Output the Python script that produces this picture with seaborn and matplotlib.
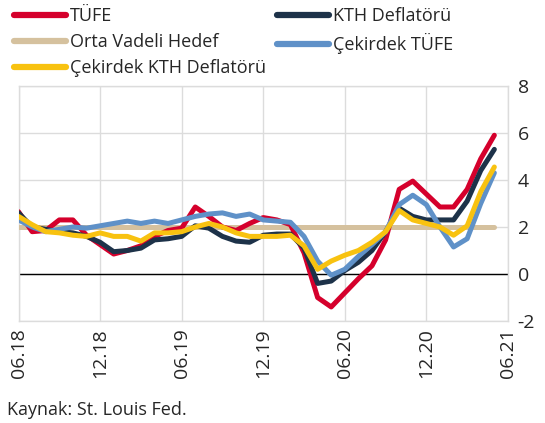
import pandas as pd
import matplotlib.pyplot as plt
import seaborn as sns

# ==========================================
# DATA (monthly, 06.18 - 05.21, % yoy)
# ==========================================

months = list(range(36))

tufe = [2.65, 1.8, 1.85, 2.3, 2.3, 1.65, 1.25, 0.85, 1.0, 1.2, 1.6, 1.85,
        1.95, 2.85, 2.45, 2.0, 1.85, 2.15, 2.4, 2.3, 2.1, 0.9, -1.0, -1.4,
        -0.8, -0.2, 0.35, 1.45, 3.6, 3.95, 3.4, 2.85, 2.85, 3.6, 4.9, 5.9]

kth = [2.6, 2.0, 1.9, 1.8, 1.75, 1.6, 1.35, 0.95, 1.0, 1.1, 1.45, 1.5,
       1.6, 2.05, 1.95, 1.6, 1.4, 1.35, 1.65, 1.7, 1.7, 1.1, -0.4, -0.3,
       0.15, 0.5, 1.0, 1.8, 2.8, 2.45, 2.3, 2.3, 2.3, 3.1, 4.4, 5.3]

cekirdek_tufe = [2.3, 2.0, 1.8, 1.9, 2.0, 1.95, 2.05, 2.15, 2.25, 2.15, 2.25, 2.15,
                 2.3, 2.45, 2.55, 2.6, 2.45, 2.55, 2.3, 2.25, 2.2, 1.6, 0.55, -0.05,
                 0.2, 0.75, 1.25, 1.8, 2.95, 3.35, 2.95, 2.0, 1.15, 1.5, 3.0, 4.3]

cekirdek_kth = [2.45, 2.1, 1.8, 1.75, 1.65, 1.6, 1.75, 1.6, 1.6, 1.4, 1.75, 1.75,
                1.8, 2.0, 2.15, 2.0, 1.75, 1.6, 1.6, 1.6, 1.65, 1.2, 0.2, 0.55,
                0.8, 1.0, 1.35, 1.8, 2.7, 2.3, 2.15, 2.0, 1.65, 2.05, 3.5, 4.55]

hedef = [2.0] * 36

tick_pos = [0, 6, 12, 18, 24, 30, 36]
tick_labels = ["06.18", "12.18", "06.19", "12.19", "06.20", "12.20", "06.21"]

series = {
    "Orta Vadeli Hedef": hedef,
    "TÜFE": tufe,
    "KTH Deflatörü": kth,
    "Çekirdek TÜFE": cekirdek_tufe,
    "Çekirdek KTH Deflatörü": cekirdek_kth,
}

colors = {
    "TÜFE": "#d5002c",
    "KTH Deflatörü": "#1d3249",
    "Orta Vadeli Hedef": "#d5c19e",
    "Çekirdek TÜFE": "#5f91c8",
    "Çekirdek KTH Deflatörü": "#f8c210",
}

df = pd.DataFrame([
    {"Ay": m, "Seri": name, "Deger": v}
    for name, vals in series.items()
    for m, v in zip(months, vals)
])

# ==========================================
# PLOT
# ==========================================

sns.set_style("white")
plt.rcParams["font.family"] = ["Open Sans", "DejaVu Sans"]

fig = plt.figure(figsize=(5.45, 4.23), dpi=100)
ax = fig.add_axes([0.034, 0.241, 0.898, 0.556])

ax.axhline(0, color="black", linewidth=1, zorder=1)

sns.lineplot(
    data=df,
    x="Ay",
    y="Deger",
    hue="Seri",
    hue_order=list(series.keys()),
    palette=colors,
    linewidth=3.6,
    ax=ax,
    legend=False,
    zorder=3,
)
for line in ax.get_lines():
    line.set_solid_joinstyle("round")
    line.set_solid_capstyle("round")

ax.set_xlim(0, 36)
ax.set_ylim(-2, 8)
ax.set_xticks(tick_pos)
ax.set_xticklabels(tick_labels, rotation=90, fontsize=14)
ax.set_yticks([-2, 0, 2, 4, 6, 8])
ax.set_yticklabels(["-2", "0", "2", "4", "6", "8"], fontsize=14)
ax.yaxis.tick_right()
ax.tick_params(axis="both", length=0)
ax.tick_params(axis="y", pad=7)
ax.tick_params(axis="x", pad=5)
ax.set_xlabel("")
ax.set_ylabel("")

ax.grid(True, color="#dcdcdc", linewidth=1)
ax.set_axisbelow(True)
for spine in ax.spines.values():
    spine.set_color("#dcdcdc")
    spine.set_linewidth(1)

# legend: column 1 -> TÜFE, Orta Vadeli Hedef, Çekirdek KTH; column 2 -> KTH, Çekirdek TÜFE
order = ["TÜFE", "Orta Vadeli Hedef", "Çekirdek KTH Deflatörü",
         "KTH Deflatörü", "Çekirdek TÜFE"]
handles = [plt.Line2D([], [], color=colors[n], linewidth=4.5,
                      solid_capstyle="round") for n in order]
fig.legend(
    handles,
    order,
    loc="upper left",
    bbox_to_anchor=(0.012, 1.0),
    ncol=2,
    frameon=False,
    fontsize=13,
    handlelength=2.9,
    handletextpad=0.2,
    columnspacing=0.6,
    labelspacing=0.45,
    borderaxespad=0,
)

fig.text(0.012, 0.03, "Kaynak: St. Louis Fed.", fontsize=13, va="center")

fig.savefig("out.png", dpi=100)
